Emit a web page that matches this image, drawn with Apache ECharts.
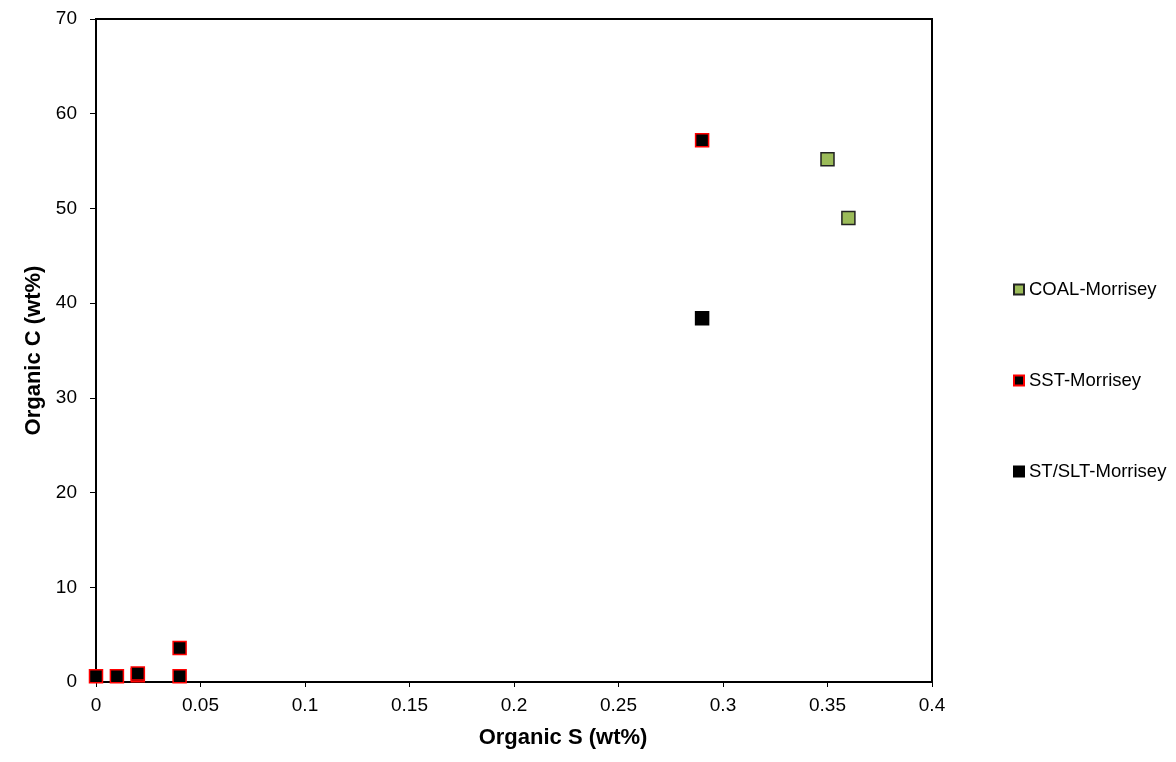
<!DOCTYPE html>
<html>
<head>
<meta charset="utf-8">
<script src="https://cdn.jsdelivr.net/npm/echarts@6/dist/echarts.min.js"></script>
<style>
html, body { margin: 0; padding: 0; background: #fff; }
#container { width: 1176px; height: 762px; }
</style>
</head>
<body>
<div id="container"></div>
<script>
// organic S (wt%) vs organic C (wt%)
var coalS = [0.35, 0.36];
var coalC = [55.2, 49.0];
var sstS = [0, 0.01, 0.02, 0.02, 0.04, 0.04, 0.29];
var sstC = [0.6, 0.6, 0.7, 0.9, 3.6, 0.6, 57.2];
var stS = [0.29];
var stC = [38.4];

function pairs(xs, ys) {
    var out = [];
    for (var i = 0; i < xs.length; i++) out.push([xs[i], ys[i]]);
    return out;
}

var dom = document.getElementById("container");
var myChart = echarts.init(dom);
var font = 'Liberation Sans, Arial, sans-serif';

var option = {
    animation: false,
    grid: {
        left: 96, top: 19, right: 244, bottom: 80,
        show: true, borderColor: '#000', borderWidth: 2, backgroundColor: '#fff'
    },
    legend: {
        orient: 'vertical',
        left: 1008,
        top: 275,
        itemGap: 72,
        itemWidth: 10,
        itemHeight: 10,
        icon: 'rect',
        textStyle: { fontFamily: font, fontSize: 18.5, color: '#000' },
        data: ['COAL-Morrisey', 'SST-Morrisey', 'ST/SLT-Morrisey']
    },
    xAxis: {
        type: 'value',
        min: 0, max: 0.4, interval: 0.05,
        name: 'Organic S (wt%)',
        nameLocation: 'middle',
        nameGap: 45,
        // title sits a bit right of the plot centre in the original
        nameTextStyle: { fontFamily: font, fontSize: 22, fontWeight: 'bold', color: '#000', padding: [0, 0, 0, 98] },
        axisLine: { show: true, lineStyle: { color: '#000', width: 2 } },
        axisTick: { show: true, length: 5, lineStyle: { color: '#000', width: 1 } },
        axisLabel: { fontFamily: font, fontSize: 19, color: '#000', margin: 14 },
        splitLine: { show: false }
    },
    yAxis: {
        type: 'value',
        min: 0, max: 70, interval: 10,
        name: 'Organic C (wt%)',
        nameLocation: 'middle',
        nameGap: 48,
        nameTextStyle: { fontFamily: font, fontSize: 22, fontWeight: 'bold', color: '#000' },
        axisLine: { show: true, lineStyle: { color: '#000', width: 2 } },
        axisTick: { show: true, length: 6, lineStyle: { color: '#000', width: 1 } },
        axisLabel: { fontFamily: font, fontSize: 19, color: '#000', margin: 19 },
        splitLine: { show: false }
    },
    series: [
        {
            name: 'COAL-Morrisey',
            type: 'scatter',
            symbol: 'rect',
            symbolSize: 13,
            itemStyle: { color: '#9BBB59', borderColor: '#222', borderWidth: 1.5, opacity: 1 },
            data: pairs(coalS, coalC)
        },
        {
            name: 'SST-Morrisey',
            type: 'scatter',
            symbol: 'rect',
            symbolSize: 13,
            itemStyle: { color: '#000', borderColor: '#FF0000', borderWidth: 1.5, opacity: 1 },
            data: pairs(sstS, sstC)
        },
        {
            name: 'ST/SLT-Morrisey',
            type: 'scatter',
            symbol: 'rect',
            symbolSize: 13,
            itemStyle: { color: '#000', borderColor: '#000', borderWidth: 1.5, opacity: 1 },
            data: pairs(stS, stC)
        }
    ]
};

myChart.setOption(option, true);
</script>
</body>
</html>
